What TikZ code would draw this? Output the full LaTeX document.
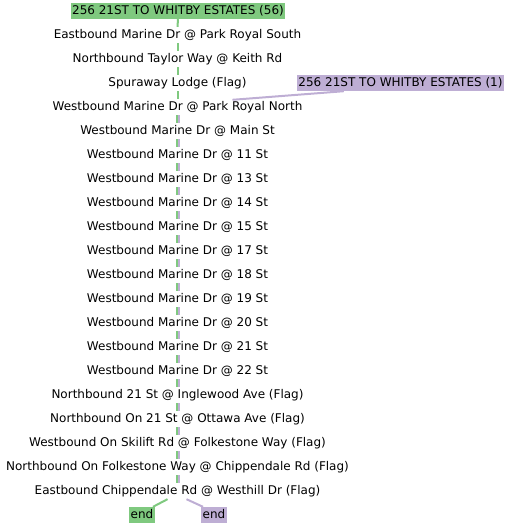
\documentclass[tikz,border=0pt]{standalone}
\usepackage{fontspec}
\setmainfont{DejaVu Sans}
\definecolor{routegreen}{RGB}{127,201,127}
\definecolor{routepurple}{RGB}{190,174,212}
\tikzset{
  stop/.style={inner xsep=1.5pt, inner ysep=2pt, text height=9pt, text depth=3pt, font=\fontsize{12}{14}\selectfont},
  greenbox/.style={stop, fill=routegreen},
  purplebox/.style={stop, fill=routepurple},
  greenline/.style={routegreen, line width=2pt},
  purpleline/.style={routepurple, line width=2pt}
}
\begin{document}
\begin{tikzpicture}[x=1pt,y=-1pt]
    \useasboundingbox (0,0) rectangle (511,528);

    \node[greenbox] (r0) at (178, 11) {256 21ST TO WHITBY ESTATES (56)};
    \node[purplebox] (pb) at (400.5, 83) {256 21ST TO WHITBY ESTATES (1)};
    \node[stop] (r1) at (177.5, 35) {Eastbound Marine Dr @ Park Royal South};
    \node[stop] (r2) at (177.5, 59) {Northbound Taylor Way @ Keith Rd};
    \node[stop] (r3) at (177.5, 83) {Spuraway Lodge (Flag)};
    \node[stop] (r4) at (177.5, 107) {Westbound Marine Dr @ Park Royal North};
    \node[stop] (r5) at (177.5, 131) {Westbound Marine Dr @ Main St};
    \node[stop] (r6) at (177.5, 155) {Westbound Marine Dr @ 11 St};
    \node[stop] (r7) at (177.5, 179) {Westbound Marine Dr @ 13 St};
    \node[stop] (r8) at (177.5, 203) {Westbound Marine Dr @ 14 St};
    \node[stop] (r9) at (177.5, 227) {Westbound Marine Dr @ 15 St};
    \node[stop] (r10) at (177.5, 251) {Westbound Marine Dr @ 17 St};
    \node[stop] (r11) at (177.5, 275) {Westbound Marine Dr @ 18 St};
    \node[stop] (r12) at (177.5, 299) {Westbound Marine Dr @ 19 St};
    \node[stop] (r13) at (177.5, 323) {Westbound Marine Dr @ 20 St};
    \node[stop] (r14) at (177.5, 347) {Westbound Marine Dr @ 21 St};
    \node[stop] (r15) at (177.5, 371) {Westbound Marine Dr @ 22 St};
    \node[stop] (r16) at (177.5, 395) {Northbound 21 St @ Inglewood Ave (Flag)};
    \node[stop] (r17) at (177.5, 419) {Northbound On 21 St @ Ottawa Ave (Flag)};
    \node[stop] (r18) at (177.5, 443) {Westbound On Skilift Rd @ Folkestone Way (Flag)};
    \node[stop] (r19) at (177.5, 467) {Northbound On Folkestone Way @ Chippendale Rd (Flag)};
    \node[stop] (r20) at (177.5, 491) {Eastbound Chippendale Rd @ Westhill Dr (Flag)};
    \node[greenbox] (endg) at (142, 515) {end};
    \node[purplebox] (endp) at (214, 515) {end};

    \draw[greenline] (r0.south) -- (r1.north);
    \draw[greenline] (r1.south) -- (r2.north);
    \draw[greenline] (r2.south) -- (r3.north);
    \draw[greenline] (r3.south) -- (r4.north);

    \draw[purpleline] ([xshift=47pt]pb.south west) -- ([xshift=55pt,yshift=-1pt]r4.north);

    \foreach \a/\b in {4/5,5/6,6/7,7/8,8/9,9/10,10/11,11/12,12/13,13/14,14/15,15/16,16/17,17/18,18/19,19/20} {
        \draw[greenline] ([xshift=-1pt]r\a.south) -- ([xshift=-1pt]r\b.north);
        \draw[purpleline] ([xshift=1.5pt]r\a.south) -- ([xshift=1.5pt]r\b.north);
    }

    \draw[greenline] ([xshift=-10pt]r20.south) -- ([xshift=-2pt]endg.north east);
    \draw[purpleline] ([xshift=9pt]r20.south) -- ([xshift=2pt]endp.north west);
\end{tikzpicture}
\end{document}
